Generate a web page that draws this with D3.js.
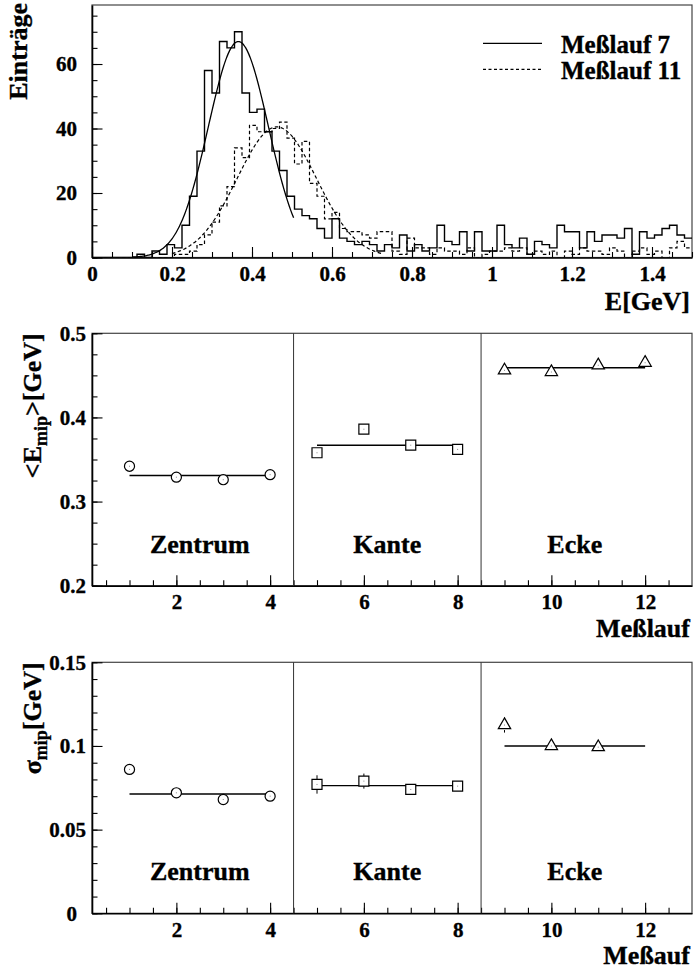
<!DOCTYPE html>
<html>
<head>
<meta charset="utf-8">
<script src="https://cdn.jsdelivr.net/npm/d3@7"></script>
<style>
  html, body { margin: 0; padding: 0; background: #fff; }
  svg { display: block; }
  text { font-family: "Liberation Serif", "Times New Roman", serif; font-weight: bold; fill: #000; stroke: #000; stroke-width: 0.35px; }
</style>
</head>
<body>
<svg id="chart" width="694" height="972"></svg>
<script>
// ---- Energy spectra (80 bins from 0 to 1.5 GeV) ----
const histRange = [0, 1.5];
const run7Counts = [
  0, 0, 0, 0, 0, 0, 1, 0, 2, 1,
  4, 3, 10, 19, 33, 58, 51, 67, 65, 70,
  51, 45, 46, 39, 33, 27, 19, 15, 13, 12,
  9, 6, 12, 6, 5, 4, 5, 4, 2, 4,
  3, 7, 2, 4, 2, 3, 10, 5, 4, 8,
  2, 8, 2, 2, 10, 4, 3, 6, 1, 5,
  4, 3, 10, 8, 8, 3, 8, 5, 7, 7,
  6, 9, 1, 8, 6, 7, 9, 10, 7, 6
];
const run11Counts = [
  0, 0, 0, 0, 0, 0, 0, 0, 0, 0,
  0, 1, 1, 2, 4, 7, 11, 16, 22, 34,
  31, 41, 39, 39, 40, 42, 37, 29, 36, 23,
  19, 12, 14, 9, 8, 8, 7, 6, 8, 8,
  2, 1, 6, 3, 3, 1, 3, 2, 2, 1,
  3, 0, 1, 2, 2, 3, 2, 3, 1, 2,
  1, 2, 0, 2, 1, 3, 2, 2, 1, 3,
  2, 0, 2, 3, 1, 2, 0, 3, 5, 3
];
// Gaussian fits: amplitude, mean, sigma, fit range
const fit7 = { amp: 67, mean: 0.366, sigma: 0.075, from: 0.10, to: 0.505 };
const fit11 = { amp: 40.5, mean: 0.462, sigma: 0.099, from: 0.20, to: 0.73 };
const legendLabels = ["Meßlauf 7", "Meßlauf 11"];

// ---- Per-run results ----
const runs = [1, 2, 3, 4, 5, 6, 7, 8, 9, 10, 11, 12];
const runGroup = ["Zentrum", "Zentrum", "Zentrum", "Zentrum", "Kante", "Kante", "Kante", "Kante", "Ecke", "Ecke", "Ecke", "Ecke"];
const eMip = [0.342, 0.329, 0.326, 0.332, 0.358, 0.386, 0.367, 0.362, 0.456, 0.454, 0.462, 0.465];
const sigmaMip = [0.086, 0.072, 0.068, 0.070, 0.077, 0.079, 0.074, 0.076, 0.1125, 0.100, 0.0993, null];
const sigmaMipErr = [0.001, 0.001, 0.001, 0.001, 0.0055, 0.0045, 0.002, 0.002, 0.0045, 0.002, 0.002, 0];
const groups = ["Zentrum", "Kante", "Ecke"];
const groupRuns = [[1, 4], [5, 8], [9, 12]];
const groupCenters = [2.5, 6.5, 10.5];
const groupBounds = [4.5, 8.5];
const eMipFit = [0.331, 0.367, 0.459];
const sigmaMipFit = [0.0713, 0.0763, 0.100];

// ---- Tick values ----
const histXTicks = [0, 0.2, 0.4, 0.6, 0.8, 1, 1.2, 1.4];
const histYTicks = [0, 20, 40, 60];
const runTicks = [2, 4, 6, 8, 10, 12];
const eMipTicks = [0.2, 0.3, 0.4, 0.5];
const sigmaTicks = [0, 0.05, 0.1, 0.15];

const svg = d3.select("#chart");
const L = 92, R = 692;
const TICK = 10.5, MINOR = 5.5;
const tickFont = 21;

function fmt(v) { return d3.format("~g")(v); }

function drawAxes(g, x, y, opt) {
  const [y0, y1] = y.range();
  // frame
  g.append("rect").attr("x", L).attr("y", y1).attr("width", R - L).attr("height", y0 - y1)
    .attr("fill", "none").attr("stroke", "#444").attr("stroke-width", 1.2);

  // bottom axis: major + minor ticks pointing inward
  const xb = g.append("g").attr("transform", `translate(0,${y0})`)
    .call(d3.axisBottom(x).tickValues(opt.xTicks).tickFormat(fmt).tickSize(-TICK).tickSizeOuter(0).tickPadding(8.5));
  g.append("g").attr("transform", `translate(0,${y0})`)
    .call(d3.axisBottom(x).tickValues(opt.xMinor).tickFormat("").tickSize(-MINOR).tickSizeOuter(0))
    .call(s => s.select(".domain").remove());
  xb.selectAll("text").style("font-size", tickFont + "px");

  // left axis
  const yl = g.append("g").attr("transform", `translate(${L},0)`)
    .call(d3.axisLeft(y).tickValues(opt.yTicks).tickFormat(fmt).tickSize(-TICK).tickSizeOuter(0));
  g.append("g").attr("transform", `translate(${L},0)`)
    .call(d3.axisLeft(y).tickValues(opt.yMinor).tickFormat("").tickSize(-MINOR).tickSizeOuter(0))
    .call(s => s.select(".domain").remove());
  yl.selectAll("text").style("font-size", tickFont + "px")
    .attr("x", d => Number.isInteger(d) ? -15 : -6);

  g.selectAll(".domain").attr("stroke", "#000").attr("stroke-width", 1.6);
  g.selectAll(".tick line").attr("stroke", "#000").attr("stroke-width", 1.1);
  g.selectAll(".tick text").attr("fill", "#000");
}

// =================== Panel 1: spectra ===================
{
  const x = d3.scaleLinear().domain([0, 1.5]).range([L, R]);
  const y = d3.scaleLinear().domain([0, 78.3]).range([257.5, 5]);
  const g = svg.append("g");
  drawAxes(g, x, y, {
    xTicks: histXTicks, xMinor: d3.range(0, 1.501, 0.05),
    yTicks: histYTicks, yMinor: d3.range(0, 76, 5)
  });

  const nb = run7Counts.length;
  const edges = d3.range(nb + 1).map(i => histRange[0] + i * (histRange[1] - histRange[0]) / nb);
  const stepPts = counts => counts.map((c, i) => [edges[i], c]).concat([[edges[nb], counts[nb - 1]]]);
  const step = d3.line().x(d => x(d[0])).y(d => y(d[1])).curve(d3.curveStepAfter);

  svg.append("defs").append("clipPath").attr("id", "clipTop")
    .append("rect").attr("x", L).attr("y", 5).attr("width", R - L).attr("height", 252.5);
  const p = g.append("g").attr("clip-path", "url(#clipTop)");

  p.append("path").attr("d", step(stepPts(run11Counts)))
    .attr("fill", "none").attr("stroke", "#000").attr("stroke-width", 1.2).attr("stroke-dasharray", "3.5,2.5");
  p.append("path").attr("d", step(stepPts(run7Counts)))
    .attr("fill", "none").attr("stroke", "#000").attr("stroke-width", 1.4);

  const gauss = f => d3.range(f.from, f.to + 1e-9, 0.004)
    .map(e => [e, f.amp * Math.exp(-0.5 * ((e - f.mean) / f.sigma) ** 2)]);
  const curve = d3.line().x(d => x(d[0])).y(d => y(d[1])).curve(d3.curveBasis);
  p.append("path").attr("d", curve(gauss(fit7)))
    .attr("fill", "none").attr("stroke", "#000").attr("stroke-width", 1.3);
  p.append("path").attr("d", curve(gauss(fit11)))
    .attr("fill", "none").attr("stroke", "#000").attr("stroke-width", 1.2).attr("stroke-dasharray", "3.5,2.5");

  // legend
  const leg = g.append("g");
  [[43.3, 52.5, null], [69.3, 78.5, "3,2.5"]].forEach(([ly, ty, dash], i) => {
    leg.append("line").attr("x1", 483).attr("x2", 542).attr("y1", ly).attr("y2", ly)
      .attr("stroke", "#000").attr("stroke-width", 1.3).attr("stroke-dasharray", dash);
    leg.append("text").attr("x", 561).attr("y", ty).style("font-size", "25px").text(legendLabels[i]);
  });

  g.append("text").attr("transform", "translate(27,3) rotate(-90)").attr("text-anchor", "end")
    .style("font-size", "26px").text("Einträge");
  g.append("text").attr("x", 690).attr("y", 310).attr("text-anchor", "end")
    .style("font-size", "26px").text("E[GeV]");
}

// =================== Panels 2 & 3: per-run results ===================
function runPanel(top, bottom, domainY, yTicks, yMinor, values, errs, fits, xTitle, xTitleY, yTitle) {
  const x = d3.scaleLinear().domain([0.2, 13]).range([L, R]);
  const y = d3.scaleLinear().domain(domainY).range([bottom, top]);
  const g = svg.append("g");
  drawAxes(g, x, y, {
    xTicks: runTicks, xMinor: d3.range(0.5, 13, 0.5),
    yTicks: yTicks, yMinor: yMinor
  });

  groupBounds.forEach(b => g.append("line").attr("x1", x(b)).attr("x2", x(b)).attr("y1", top).attr("y2", bottom)
    .attr("stroke", "#333").attr("stroke-width", 1));

  // fitted constants per group
  groupRuns.forEach((r, i) => g.append("line").attr("x1", x(r[0])).attr("x2", x(r[1]))
    .attr("y1", y(fits[i])).attr("y2", y(fits[i])).attr("stroke", "#000").attr("stroke-width", 1.4));

  // markers
  const sym = { Zentrum: d3.symbolCircle, Kante: d3.symbolSquare, Ecke: d3.symbolTriangle };
  const size = { Zentrum: 80, Kante: 100, Ecke: 66 };
  const half = { Zentrum: 5, Kante: 5, Ecke: 5 };
  runs.forEach((r, i) => {
    const v = values[i];
    if (v == null) return;
    const cx = x(r), cy = y(v), grp = runGroup[i];
    if (errs && errs[i]) {
      const e = Math.abs(y(v + errs[i]) - cy);
      if (e > half[grp]) {
        g.append("line").attr("x1", cx).attr("x2", cx).attr("y1", cy - e).attr("y2", cy - half[grp])
          .attr("stroke", "#000").attr("stroke-width", 1);
        g.append("line").attr("x1", cx).attr("x2", cx).attr("y1", cy + half[grp]).attr("y2", cy + e)
          .attr("stroke", "#000").attr("stroke-width", 1);
      }
    }
    g.append("path").attr("d", d3.symbol(sym[grp], size[grp])())
      .attr("transform", `translate(${cx},${cy})`)
      .attr("fill", "#fff").attr("stroke", "#000").attr("stroke-width", 1.2);
    g.append("rect").attr("x", cx - 0.5).attr("y", cy - 0.5).attr("width", 1).attr("height", 1).attr("fill", "#888");
  });

  groups.forEach((name, i) => g.append("text").attr("x", x(groupCenters[i])).attr("y", bottom - 33)
    .attr("text-anchor", "middle").style("font-size", "26px").text(name));

  g.append("text").attr("x", 690).attr("y", xTitleY).attr("text-anchor", "end")
    .style("font-size", "26px").text(xTitle);

  const t = g.append("text").attr("transform", `translate(41,${top}) rotate(-90)`).attr("text-anchor", "end")
    .style("font-size", "26px");
  t.append("tspan").text(yTitle[0]);
  t.append("tspan").attr("dy", 6).style("font-size", "18px").text("mip");
  t.append("tspan").attr("dy", -6).text(yTitle[1]);
}

runPanel(333.3, 585.7, [0.2, 0.5], eMipTicks, d3.range(0.2, 0.5001, 0.025),
  eMip, null, eMipFit, "Meßlauf", 637, ["<E", ">[GeV]"]);
runPanel(662.3, 913.3, [0, 0.15], sigmaTicks, d3.range(0, 0.1501, 0.01),
  sigmaMip, sigmaMipErr, sigmaMipFit, "Meßauf", 964, ["σ", "[GeV]"]);
</script>
</body>
</html>
